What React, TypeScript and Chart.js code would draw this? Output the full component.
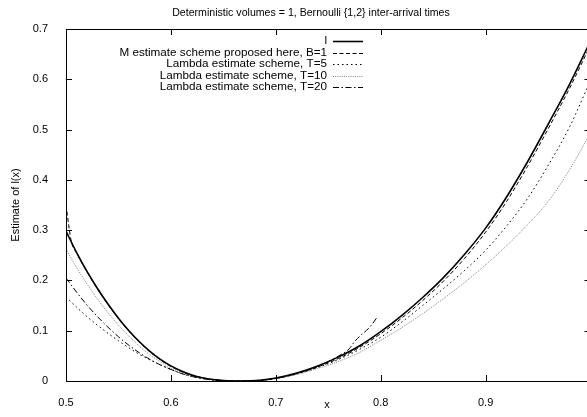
import React, { useEffect, useRef } from "react";
import { Chart, registerables } from "chart.js";

Chart.register(...registerables);

const TITLE = "Deterministic volumes = 1, Bernoulli {1,2} inter-arrival times";
const X_LABEL = "x";
const Y_LABEL = "Estimate of l(x)";
const SERIES_NAMES = [
  "l",
  "M estimate scheme proposed here, B=1",
  "Lambda estimate scheme, T=5",
  "Lambda estimate scheme, T=10",
  "Lambda estimate scheme, T=20",
];
const X_TICKS = [0.5, 0.6, 0.7, 0.8, 0.9, 1.0];
const Y_TICKS = [0, 0.1, 0.2, 0.3, 0.4, 0.5, 0.6, 0.7];

// exact l(x)
const X_L = [0.5, 0.51, 0.52, 0.53, 0.54, 0.55, 0.56, 0.57, 0.58, 0.59, 0.6, 0.61, 0.62, 0.63, 0.64, 0.65, 0.667, 0.685, 0.7, 0.72, 0.74, 0.76, 0.78, 0.8, 0.82, 0.84, 0.86, 0.88, 0.9, 0.92, 0.94, 0.96, 0.98, 1.0];
const Y_L = [0.298, 0.256, 0.218, 0.184, 0.153, 0.125, 0.1, 0.078, 0.059, 0.043, 0.03, 0.02, 0.012, 0.0065, 0.003, 0.001, 0, 0.0015, 0.006, 0.016, 0.03, 0.048, 0.07, 0.098, 0.13, 0.166, 0.206, 0.252, 0.304, 0.366, 0.436, 0.512, 0.59, 0.676];

// M estimate, B=1
const X_M = [0.5, 0.505, 0.51, 0.52, 0.53, 0.54, 0.55, 0.56, 0.57, 0.58, 0.59, 0.6, 0.61, 0.62, 0.64, 0.65, 0.667, 0.685, 0.7, 0.72, 0.74, 0.76, 0.78, 0.8, 0.82, 0.84, 0.86, 0.88, 0.9, 0.92, 0.94, 0.96, 0.98, 1.0];
const Y_M = [0.35, 0.278, 0.255, 0.217, 0.183, 0.152, 0.124, 0.099, 0.077, 0.058, 0.042, 0.029, 0.019, 0.011, 0.003, 0.001, 0, 0.0014, 0.005, 0.015, 0.028, 0.045, 0.067, 0.094, 0.125, 0.16, 0.199, 0.244, 0.296, 0.357, 0.427, 0.503, 0.582, 0.668];

// Lambda, T=5
const X_T5 = [0.5, 0.51, 0.52, 0.53, 0.54, 0.55, 0.56, 0.57, 0.58, 0.59, 0.6, 0.61, 0.62, 0.64, 0.667, 0.685, 0.7, 0.72, 0.74, 0.76, 0.78, 0.8, 0.82, 0.84, 0.86, 0.88, 0.9, 0.92, 0.94, 0.96, 0.98, 1.0];
const Y_T5 = [0.167, 0.147, 0.128, 0.111, 0.095, 0.08, 0.066, 0.053, 0.042, 0.032, 0.023, 0.015, 0.009, 0.002, 0, 0.001, 0.005, 0.014, 0.027, 0.043, 0.063, 0.087, 0.117, 0.15, 0.184, 0.22, 0.26, 0.308, 0.363, 0.43, 0.505, 0.598];

// Lambda, T=10
const X_T10 = [0.5, 0.51, 0.52, 0.53, 0.54, 0.55, 0.56, 0.57, 0.58, 0.59, 0.6, 0.61, 0.62, 0.64, 0.667, 0.685, 0.7, 0.72, 0.74, 0.76, 0.78, 0.8, 0.82, 0.84, 0.86, 0.88, 0.9, 0.92, 0.94, 0.96, 0.98, 1.0];
const Y_T10 = [0.262, 0.226, 0.193, 0.163, 0.136, 0.111, 0.089, 0.069, 0.052, 0.038, 0.026, 0.017, 0.01, 0.0025, 0, 0.001, 0.005, 0.013, 0.025, 0.039, 0.057, 0.081, 0.106, 0.134, 0.164, 0.196, 0.231, 0.269, 0.311, 0.358, 0.42, 0.494];

// Lambda, T=20
const X_T20 = [0.5, 0.51, 0.52, 0.53, 0.54, 0.55, 0.56, 0.57, 0.58, 0.59, 0.6, 0.61, 0.62, 0.64, 0.667, 0.685, 0.7, 0.72, 0.74, 0.76, 0.77, 0.775, 0.78, 0.79, 0.797];
const Y_T20 = [0.205, 0.177, 0.151, 0.128, 0.107, 0.088, 0.071, 0.056, 0.043, 0.032, 0.023, 0.015, 0.009, 0.002, 0, 0.0012, 0.005, 0.015, 0.029, 0.05, 0.064, 0.078, 0.089, 0.108, 0.128];

const FONT = "'Liberation Sans', Arial, Helvetica, sans-serif";

const STYLES = [
  { color: "#000000", width: 1.6, dash: [] as number[] },
  { color: "#000000", width: 1, dash: [4, 2.5] },
  { color: "#000000", width: 1, dash: [1.5, 3] },
  { color: "#7f7f7f", width: 1, dash: [1, 1.2] },
  { color: "#000000", width: 1, dash: [6, 2.5, 1.5, 2.5] },
];

function pts(xs: number[], ys: number[]) {
  return xs.map((x, i) => ({ x, y: ys[i] }));
}

const decorPlugin = {
  id: "gnuplotDecor",
  afterDraw(chart: any) {
    const ctx: CanvasRenderingContext2D = chart.ctx;
    const a = chart.chartArea;
    const xs = chart.scales.x;
    const ys = chart.scales.y;
    ctx.save();
    ctx.strokeStyle = "#000";
    ctx.lineWidth = 1;
    ctx.setLineDash([]);
    ctx.strokeRect(Math.round(a.left) + 0.5, Math.round(a.top) + 0.5, Math.round(a.right - a.left), Math.round(a.bottom - a.top));
    const tl = 6;
    ctx.beginPath();
    X_TICKS.forEach((v) => {
      const px = Math.round(xs.getPixelForValue(v)) + 0.5;
      ctx.moveTo(px, a.bottom);
      ctx.lineTo(px, a.bottom - tl);
      ctx.moveTo(px, a.top);
      ctx.lineTo(px, a.top + tl);
    });
    Y_TICKS.forEach((v) => {
      const py = Math.round(ys.getPixelForValue(v)) + 0.5;
      ctx.moveTo(a.left, py);
      ctx.lineTo(a.left + tl, py);
      ctx.moveTo(a.right, py);
      ctx.lineTo(a.right - tl, py);
    });
    ctx.stroke();

    ctx.fillStyle = "#000";
    ctx.textAlign = "center";
    ctx.textBaseline = "middle";
    ctx.font = `10.6px ${FONT}`;
    ctx.fillText(TITLE, 311, 13);
    ctx.font = `11px ${FONT}`;
    ctx.fillText(X_LABEL, 327, 405);
    ctx.save();
    ctx.translate(16, 205);
    ctx.rotate(-Math.PI / 2);
    ctx.fillText(Y_LABEL, 0, 0);
    ctx.restore();

    ctx.font = `11.7px ${FONT}`;
    const rowY = [41, 52.5, 64, 75.5, 87];
    SERIES_NAMES.forEach((name, i) => {
      const y = rowY[i];
      ctx.textAlign = "right";
      ctx.fillStyle = "#000";
      ctx.fillText(name, 327, y);
      const st = STYLES[i];
      ctx.strokeStyle = st.color;
      ctx.lineWidth = st.width;
      ctx.setLineDash(st.dash);
      ctx.beginPath();
      ctx.moveTo(333, Math.round(y) + 0.5);
      ctx.lineTo(363, Math.round(y) + 0.5);
      ctx.stroke();
    });
    ctx.restore();
  },
};

export default function App() {
  const ref = useRef<HTMLCanvasElement | null>(null);
  useEffect(() => {
    if (!ref.current) return;
    const all = [
      pts(X_L, Y_L),
      pts(X_M, Y_M),
      pts(X_T5, Y_T5),
      pts(X_T10, Y_T10),
      pts(X_T20, Y_T20),
    ];
    const chart = new Chart(ref.current, {
      type: "line",
      data: {
        datasets: all.map((d, i) => ({
          label: SERIES_NAMES[i],
          data: d,
          borderColor: STYLES[i].color,
          borderWidth: STYLES[i].width,
          borderDash: STYLES[i].dash,
          pointRadius: 0,
          fill: false,
          cubicInterpolationMode: "monotone" as const,
        })),
      },
      options: {
        animation: false,
        responsive: false,
        devicePixelRatio: 1,
        layout: { padding: { top: 29, right: 1.5, left: 0, bottom: 0 } },
        plugins: { legend: { display: false }, title: { display: false }, tooltip: { enabled: false } },
        scales: {
          x: {
            type: "linear",
            min: 0.5,
            max: 1.0,
            grid: { display: false },
            border: { display: false },
            afterBuildTicks: (s: any) => {
              s.ticks = X_TICKS.filter((v) => v < 0.99).map((v) => ({ value: v }));
            },
            afterFit: (s: any) => {
              s.height = 36;
            },
            ticks: {
              color: "#000",
              font: { family: FONT, size: 11 },
              padding: 7,
              maxRotation: 0,
              callback: (v: any) => Number(v).toFixed(1),
            },
          },
          y: {
            type: "linear",
            min: 0,
            max: 0.7,
            grid: { display: false },
            border: { display: false },
            afterBuildTicks: (s: any) => {
              s.ticks = Y_TICKS.map((v) => ({ value: v }));
            },
            afterFit: (s: any) => {
              s.width = 66;
            },
            ticks: {
              color: "#000",
              font: { family: FONT, size: 11 },
              padding: 10,
              callback: (v: any) => (Number(v) === 0 ? "0" : Number(v).toFixed(1)),
            },
          },
        },
      },
      plugins: [decorPlugin],
    } as any);
    return () => chart.destroy();
  }, []);

  return (
    <div style={{ position: "fixed", left: 0, top: 0, width: 587, height: 417, overflow: "hidden", background: "#fff" }}>
      <canvas ref={ref} width={592} height={417} style={{ width: 592, height: 417, display: "block" }} />
    </div>
  );
}
